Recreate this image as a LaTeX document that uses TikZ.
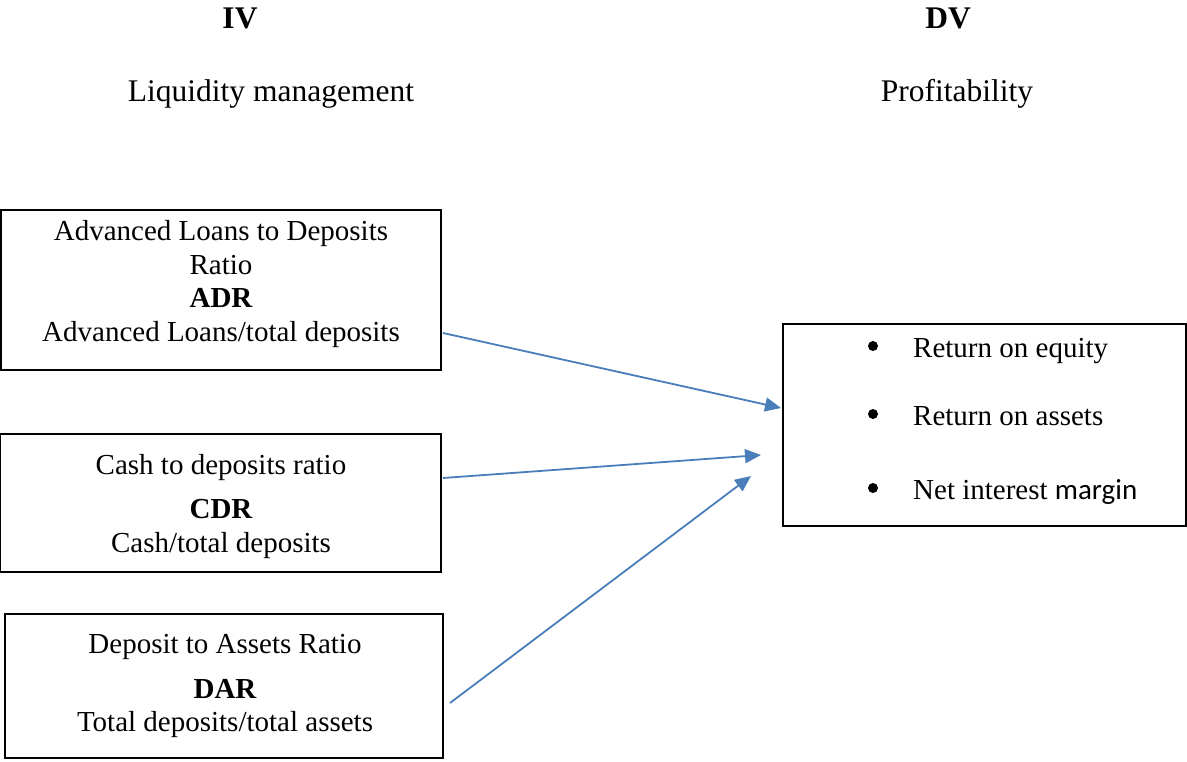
\documentclass[tikz,border=0pt]{standalone}
\usepackage{fontspec}
\setmainfont{Liberation Serif}
\newfontfamily\calib{Carlito}
\usetikzlibrary{arrows.meta}
\definecolor{arrowblue}{RGB}{74,126,187}
\tikzset{
  box/.style={draw=black, line width=1.6pt, rectangle, inner sep=0pt},
  txt/.style={anchor=base, inner sep=0pt, font=\fontsize{29}{34}\selectfont},
  head/.style={anchor=base, inner sep=0pt, font=\fontsize{31.5}{36}\selectfont},
  bul/.style={circle, fill=black, inner sep=0pt, minimum size=10pt},
  conn/.style={draw=arrowblue, line width=1.8pt, -{Triangle[length=16pt,width=14pt]}},
}
\begin{document}
\begin{tikzpicture}[x=1pt,y=-1pt]
\useasboundingbox (0,0) rectangle (1187,761);
% headers
\node[head, font=\fontsize{31.5}{36}\selectfont\bfseries] (iv) at (240,28) {IV};
\node[head, font=\fontsize{31.5}{36}\selectfont\bfseries] (dv) at (948,28) {DV};
\node[head] (liq) at (271,101) {Liquidity management};
\node[head] (prof) at (957,101) {Profitability};
% left boxes
\node[box, minimum width=440pt, minimum height=160pt] (b1) at (221,290) {};
\node[txt] (b1a) at (221,240) {Advanced Loans to Deposits};
\node[txt] (b1b) at (221,274) {Ratio};
\node[txt] (b1c) at (221,307) {\bfseries ADR};
\node[txt] (b1d) at (221,341) {Advanced Loans/total deposits};

\node[box, minimum width=441pt, minimum height=138pt] (b2) at (220.5,503) {};
\node[txt] (b2a) at (221,474) {Cash to deposits ratio};
\node[txt] (b2b) at (221,518) {\bfseries CDR};
\node[txt] (b2c) at (221,552) {Cash/total deposits};

\node[box, minimum width=438pt, minimum height=144pt] (b3) at (224,686) {};
\node[txt] (b3a) at (225,653) {Deposit to Assets Ratio};
\node[txt] (b3b) at (225,698) {\bfseries DAR};
\node[txt] (b3c) at (225,731) {Total deposits/total assets};

% right box
\node[box, minimum width=403pt, minimum height=202pt] (rb) at (984.5,425) {};
\node[bul] (bu1) at (873,346) {};
\node[bul] (bu2) at (873,414) {};
\node[bul] (bu3) at (873,488) {};
\node[txt, anchor=base west] (r1) at (913,357) {Return on equity};
\node[txt, anchor=base west] (r2) at (913,425) {Return on assets};
\node[txt, anchor=base west] (r3) at (913,499) {Net interest {\calib margin}};

% connectors
\coordinate (s1) at (443,333);
\coordinate (s2) at (443,478);
\coordinate (s3) at (450,703);
\coordinate (e1) at (781,408);
\coordinate (e2) at (761,455);
\coordinate (e3) at (751,476);
\draw[conn] (s1) -- (e1);
\draw[conn] (s2) -- (e2);
\draw[conn] (s3) -- (e3);
\end{tikzpicture}
\end{document}
